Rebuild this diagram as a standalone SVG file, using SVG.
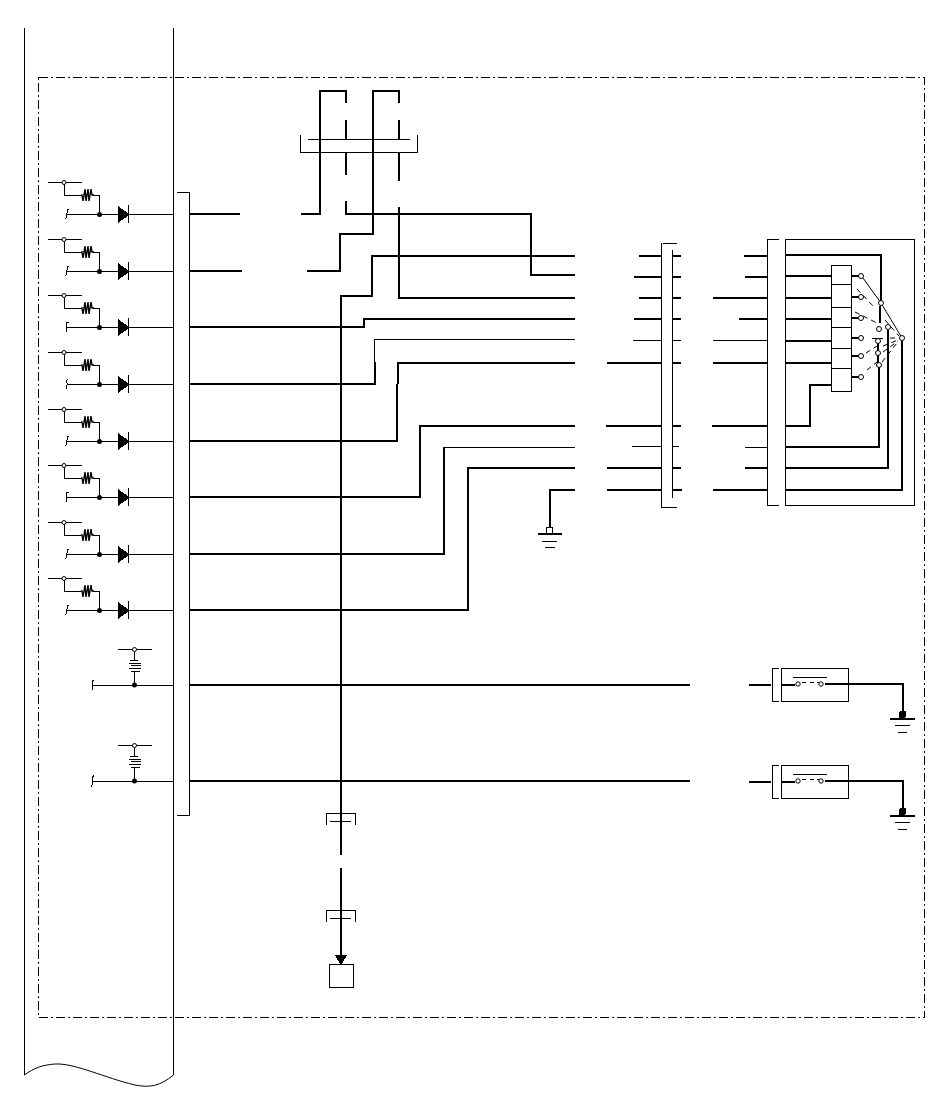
<svg xmlns="http://www.w3.org/2000/svg" xmlns:xlink="http://www.w3.org/1999/xlink" width="950" height="1103" viewBox="0 0 950 1103">
<style>
.t{fill:none;stroke:#000;stroke-width:1}
.k{fill:none;stroke:#000;stroke-width:2}
.c{fill:#fff;stroke:#000;stroke-width:1}
.f{fill:#000;stroke:none}
.d{fill:none;stroke:#000;stroke-width:1;stroke-dasharray:5 4}
path,rect,line{shape-rendering:crispEdges}
</style>
<defs>
<g id="cell">
<path class="t" d="M48 182.500H82M64.500 183V195.500H81M93 195.500H99.500V214"/>
<path class="t" style="shape-rendering:auto;stroke-width:1.4" d="M81 195H82L83 201L85 189L86 201L88 189L89 201L91 189L92 195H94"/>
<circle class="c" cx="64" cy="182.500" r="2"/>
<path class="t" d="M67 214.500H118M128 214.500H173"/>
<circle class="f" cx="99.500" cy="214.500" r="2.500"/>
<path class="f" d="M118 206L129 214L129 215L118 223Z"/>
<path class="t" d="M128.500 205V223"/>
</g>
<path id="mf" class="t" d="M69 209H67V213L66 214V218L65 219"/>
<path id="ms" class="t" d="M69 209H67Q66 209 66 212V219"/>
<path id="mw" class="t" d="M68 209L66 211V212L68 214L66 216V219"/>
<path id="mb" class="t" d="M69 209H66.500V219"/>
<g id="pull">
<path class="t" d="M118 0.500H152M134.500 2V11M134.500 23V36"/>
<circle class="c" cx="134.500" cy="0.500" r="2"/>
<path class="t" d="M130 11.500H138M129 14.500H141M131 16.500H141M129 19.500H141M131 22.500H140"/>
<circle class="f" cx="134.500" cy="36" r="2.500"/>
</g>
<g id="sw">
<rect class="t" x="781.500" y="668.500" width="67" height="33"/>
<path class="t" d="M779 668.500H772.500V701.500H779M793 677.500H827"/>
<path class="k" d="M749 685H771M781 685H795M825 684H903V712"/>
<path class="t" d="M802 682.500H806M810 682.500H814M817 682.500H820"/>
<circle class="c" cx="798" cy="684" r="2.200"/>
<circle class="c" cx="821" cy="684" r="2.200"/>
<rect class="f" x="899" y="711" width="7" height="7" rx="2"/>
<path class="k" d="M890 719H915"/>
<path class="t" d="M895 725.500H910M898 732.500H907"/>
</g>
<g id="conn">
<path class="t" d="M326.500 825V813.500H355.500V825M330 821.500H351"/>
</g>
</defs>

<g id="border">
<rect x="38.500" y="77.500" width="886" height="940" fill="none" stroke="#000" stroke-width="1" stroke-dasharray="9 3 2 3"/>
</g>
<g id="panel">
<path class="t" style="shape-rendering:auto" d="M24.500 28V1075C34 1068 42 1065 55 1064C75 1063 105 1078 135 1085C150 1088 160 1086 173.500 1075V28"/>
</g>

<g id="cell-1"><use xlink:href="#cell"/><use xlink:href="#mf"/></g>
<g id="cell-2"><use xlink:href="#cell" y="57"/><use xlink:href="#mf" y="57"/></g>
<g id="cell-3"><use xlink:href="#cell" y="113"/><use xlink:href="#ms" y="113"/></g>
<g id="cell-4"><use xlink:href="#cell" y="170"/><use xlink:href="#mw" y="170"/></g>
<g id="cell-5"><use xlink:href="#cell" y="227"/><use xlink:href="#mf" y="227"/></g>
<g id="cell-6"><use xlink:href="#cell" y="283"/><use xlink:href="#mb" y="283"/></g>
<g id="cell-7"><use xlink:href="#cell" y="340"/><use xlink:href="#mf" y="340"/></g>
<g id="cell-8"><use xlink:href="#cell" y="396"/><use xlink:href="#mf" y="396"/></g>
<g id="pull-1"><use xlink:href="#pull" y="649"/></g>
<g id="pull-2"><use xlink:href="#pull" y="745"/></g>
<g id="left-bus"><path class="t" d="M177 192.500H189.500V815.500H177"/></g>

<g id="connectors">
<path class="t" d="M92 685.500H173M92 781.500H173"/>
<path class="t" d="M94 680.500H92.500V690M94 775L92 778V785L91 787"/>
<path class="k" d="M190 214H240M301 214H320V91H346V103M346 120V139M346 152V175M346 201V214H531V275H575"/>
<path class="k" d="M190 271H242M307 271H340V234H373V91H399V103M399 120V139M399 152V181M399 207V298H575"/>
<path class="k" d="M341 855V296H372V256H575"/>
<path class="k" d="M190 327H364V319H575"/>
<path class="k" d="M190 384H375V362"/>
<path class="t" d="M374.500 362V339.500H575"/>
<path class="k" d="M190 441H397V384M398 384V363H575"/>
<path class="k" d="M190 497H420V426H575"/>
<path class="k" d="M190 554H444V448"/>
<path class="t" d="M443 447.500H575"/>
<path class="k" d="M190 610H468V468H575"/>
<path class="k" d="M575 490H550V527"/>
<path class="k" d="M190 685H690M190 781H690"/>
<path class="k" d="M341 868V955"/>
<path class="k" d="M639 256H661M672 256H681M634 277H661M672 277H681M639 298H661M672 298H681M634 319H661M672 319H681M607 363H661M672 363H681M606 426H661M672 426H681M607 468H661M672 468H681M607 490H661M672 490H682"/>
<path class="t" d="M633 340.500H661M672 340.500H681M632 446.500H661M672 446.500H679"/>
<path class="k" d="M744 256H767M745 277H767M713 298H767M739 319H767M713 363H767M712 426H767M745 468H767M713 490H767"/>
<path class="t" d="M713 340.500H767M745 447.500H767"/>
<path class="k" d="M785 255H881V303M785 276H831M785 298H831M785 319H831M785 341H831M785 363H831M785 426H810V385H831"/>
<path class="k" d="M785 447H879V367M785 468H888V330M785 490H902V340"/>
<path class="k" d="M880 306V323M878 342V363"/>
<path class="k" d="M852 276H859M852 297H859M852 318H859M852 338H859M852 356H859M852 377H859"/>
<path class="k" style="stroke-width:1" d="M872 338.500H883"/>
<path class="t" style="shape-rendering:auto" d="M863 278L881 303L902 338"/>
<path class="d" style="shape-rendering:auto" d="M857 289L875 308M855 312L877 323M866 353L877 346M867 370L877 362M883 346L898 340M883 352L898 341M882 362L897 343M890 338H898M885 320L899 336"/>
</g>

<g id="top-connector"><path class="t" d="M300.500 135V152.500H417.500V135M308 139.500H410"/></g>
<g id="mid-connector"><path class="t" d="M677 243.500H663M661.500 243V507.500H677M672.500 250V498"/></g>
<g id="right-connector"><path class="t" d="M779 239.500H767.500V505.500H779"/></g>
<g id="control-box">
<rect class="t" x="785.500" y="239.500" width="129" height="266"/>
<rect class="t" x="831.500" y="265.500" width="20" height="126"/>
<path class="t" d="M831 284.500H852M831 307.500H852M831 327.500H852M831 348.500H852M831 368.500H852"/>
<circle class="c" cx="861" cy="276" r="2.500"/>
<circle class="c" cx="861" cy="297" r="2.500"/>
<circle class="c" cx="861" cy="318" r="2.500"/>
<circle class="c" cx="861" cy="338" r="2.500"/>
<circle class="c" cx="861" cy="356" r="2.500"/>
<circle class="c" cx="861" cy="377" r="2.500"/>
<circle class="c" cx="881" cy="303" r="2.500"/>
<circle class="c" cx="879" cy="329" r="2.500"/>
<circle class="c" cx="888" cy="327" r="2.500"/>
<circle class="c" cx="902" cy="338" r="2.500"/>
<circle class="c" cx="878" cy="341" r="2.500"/>
<circle class="c" cx="878" cy="353" r="2.500"/>
<circle class="c" cx="879" cy="365" r="2.500"/>
</g>
<g id="ground-1">
<rect class="c" x="546.500" y="527.500" width="6" height="6" rx="1"/>
<path class="k" d="M538 534H562"/>
<path class="t" d="M542 541.500H557M545 547.500H555"/>
</g>
<g id="switch-1"><use xlink:href="#sw"/></g>
<g id="switch-2"><use xlink:href="#sw" y="97"/></g>
<g id="conn-1"><use xlink:href="#conn"/></g>
<g id="conn-2"><use xlink:href="#conn" y="97"/></g>
<g id="terminal">
<path class="f" d="M335 955H347L342 964H340Z"/>
<rect class="t" x="329.500" y="964.500" width="24" height="23"/>
</g>
</svg>
